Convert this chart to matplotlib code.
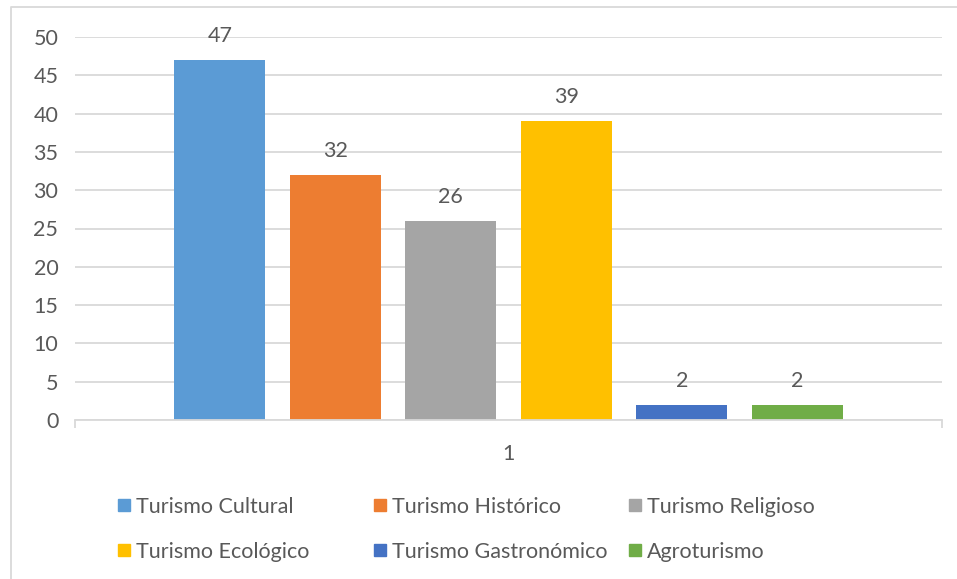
import matplotlib.pyplot as plt
from matplotlib.lines import Line2D

# datos
categorias = ["Turismo Cultural", "Turismo Histórico", "Turismo Religioso",
              "Turismo Ecológico", "Turismo Gastronómico", "Agroturismo"]
valores = [47, 32, 26, 39, 2, 2]
colores = ["#5B9BD5", "#ED7D31", "#A5A5A5", "#FFC000", "#4472C4", "#70AD47"]
etiqueta_x = ["1"]

plt.rcParams['font.family'] = ['Lato', 'DejaVu Sans']
gris = "#595959"
fs = 15.5

W, H = 957, 579
fig = plt.figure(figsize=(W / 100, H / 100), dpi=100)
ax = fig.add_axes([75 / W, 1 - 420 / H, 867 / W, 383 / H])

paso = 0.1332
ancho = 0.105
for i, (v, c) in enumerate(zip(valores, colores)):
    x = 0.5 + (i - 2.5) * paso
    ax.bar(x, v, width=ancho, color=c, zorder=3)
    ax.annotate(str(v), (x, v), xytext=(0, 10), textcoords="offset points",
                ha="center", va="bottom", fontsize=fs, color=gris)

ax.set_xlim(0, 1)
ax.set_ylim(0, 50)
ax.set_yticks(range(0, 51, 5))
ax.set_xticks([0.5])
ax.set_xticklabels(etiqueta_x)
ax.set_xticks([0, 1], minor=True)
ax.tick_params(axis="x", which="major", length=0, pad=17, labelsize=fs, labelcolor=gris)
ax.tick_params(axis="x", which="minor", length=6, width=1.3, color="#D9D9D9")
ax.tick_params(axis="y", length=0, pad=12, labelsize=fs, labelcolor=gris)
ax.grid(axis="y", color="#D9D9D9", linewidth=1.3, zorder=0)
for s in ["top", "right", "left"]:
    ax.spines[s].set_visible(False)
ax.spines["bottom"].set_color("#D9D9D9")
ax.spines["bottom"].set_linewidth(1.3)
ax.spines["bottom"].set_zorder(4)

# leyenda manual en 2 filas x 3 columnas
for i, (nombre, c) in enumerate(zip(categorias, colores)):
    fila, col = divmod(i, 3)
    xm = (124 + col * 255.5) / W
    ym = 1 - (505 + fila * 45) / H
    fig.add_artist(Line2D([xm], [ym], marker="s", markersize=9, color=c,
                          linestyle="none", transform=fig.transFigure))
    fig.text(xm + 12 / W, ym, nombre, fontsize=fs, color=gris,
             va="center_baseline", ha="left")

# borde del gráfico
fig.add_artist(Line2D([11 / W, 11 / W, 1], [0, 1 - 7 / H, 1 - 7 / H],
                      color="#D9D9D9", linewidth=1.3, transform=fig.transFigure))

fig.savefig("out.png", dpi=100)
